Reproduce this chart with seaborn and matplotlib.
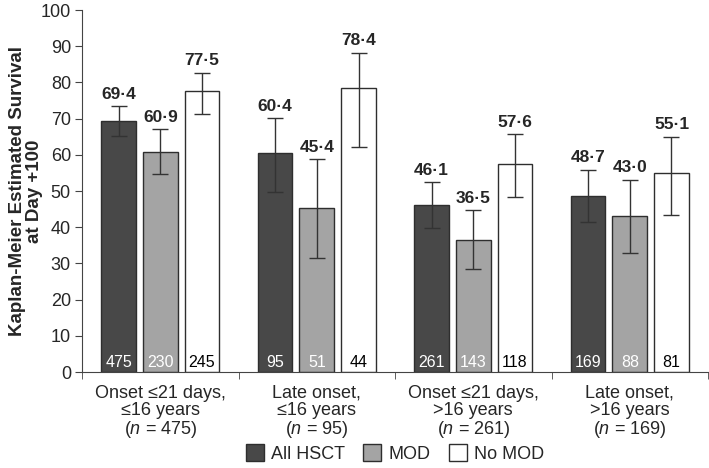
import numpy as np
import pandas as pd
import seaborn as sns
import matplotlib.pyplot as plt

# Dane
categories = ["Onset \u226421 days,\n\u226416 years\n($n$ = 475)",
              "Late onset,\n\u226416 years\n($n$ = 95)",
              "Onset \u226421 days,\n>16 years\n($n$ = 261)",
              "Late onset,\n>16 years\n($n$ = 169)"]
groups = ["All HSCT", "MOD", "No MOD"]

all_hsct = [69.4, 60.4, 46.1, 48.7]
mod = [60.9, 45.4, 36.5, 43.0]
no_mod = [77.5, 78.4, 57.6, 55.1]

all_hsct_lo = [65.2, 49.6, 39.8, 41.4]
all_hsct_hi = [73.5, 70.1, 52.4, 55.9]
mod_lo = [54.8, 31.4, 28.6, 32.8]
mod_hi = [67.0, 58.8, 44.8, 53.1]
no_mod_lo = [71.4, 62.3, 48.3, 43.4]
no_mod_hi = [82.7, 88.2, 65.7, 65.0]

all_hsct_n = [475, 95, 261, 169]
mod_n = [230, 51, 143, 88]
no_mod_n = [245, 44, 118, 81]

colors = ["#484848", "#a4a4a4", "#ffffff"]
count_colors = ["white", "white", "black"]

sns.set_style("ticks")
plt.rcParams["font.family"] = ["Liberation Sans", "DejaVu Sans"]
plt.rcParams["mathtext.fontset"] = "custom"
plt.rcParams["mathtext.it"] = "Liberation Sans:italic"
plt.rcParams["mathtext.rm"] = "Liberation Sans"

df = pd.DataFrame({
    "category": categories * 3,
    "group": np.repeat(groups, 4),
    "survival": all_hsct + mod + no_mod,
})

fig, ax = plt.subplots(figsize=(7.09, 4.68), dpi=100)
fig.subplots_adjust(left=0.1157, right=0.9986, top=0.9786, bottom=0.205)

sns.barplot(data=df, x="category", y="survival", hue="group", hue_order=groups,
            palette=colors, edgecolor="#2e2e2e", linewidth=1, gap=0.17,
            errorbar=None, saturation=1, ax=ax)

series = [
    (all_hsct, all_hsct_lo, all_hsct_hi, all_hsct_n),
    (mod, mod_lo, mod_hi, mod_n),
    (no_mod, no_mod_lo, no_mod_hi, no_mod_n),
]
for cont, (vals, lo, hi, ns), tc in zip(ax.containers, series, count_colors):
    vals, lo, hi = np.array(vals), np.array(lo), np.array(hi)
    xs = [b.get_x() + b.get_width() / 2 for b in cont]
    ax.errorbar(xs, vals, yerr=[vals - lo, hi - vals], fmt="none",
                ecolor="#333333", elinewidth=1, capsize=6, capthick=1, zorder=3)
    for x, v, h, n in zip(xs, vals, hi, ns):
        ax.text(x, h + 1.2, f"{v:.1f}".replace(".", "\u00b7"), ha="center",
                va="bottom", fontsize=12.5, fontweight="bold")
        ax.text(x, 0.5, str(n), ha="center", va="bottom", fontsize=11.5, color=tc)

ax.set_ylim(0, 100)
ax.set_xlim(-0.5, 3.5)
ax.set_yticks(range(0, 101, 10))
ax.set_xticks(np.arange(-0.5, 4, 1), minor=True)
ax.tick_params(axis="x", which="major", length=0, pad=9, labelsize=13)
ax.tick_params(axis="x", which="minor", length=5, color="#444444")
ax.tick_params(axis="y", length=5, color="#444444", labelsize=13, pad=3)
for lbl in ax.get_xticklabels():
    lbl.set_linespacing(1.0)
ax.set_xlabel("")
ax.set_ylabel("Kaplan-Meier Estimated Survival\nat Day +100", fontsize=13.5,
              fontweight="bold", linespacing=1.0)
ax.yaxis.set_label_coords(-0.062, 0.5)
for s in ["left", "bottom"]:
    ax.spines[s].set_color("#444444")
sns.despine(ax=ax)

sns.move_legend(ax, "center", bbox_to_anchor=(0.5, -0.225), ncol=3,
                frameon=False, title=None, fontsize=13, handlelength=1.0,
                handleheight=1.0, columnspacing=1.0, handletextpad=0.4)

fig.savefig("out.png", dpi=100)
